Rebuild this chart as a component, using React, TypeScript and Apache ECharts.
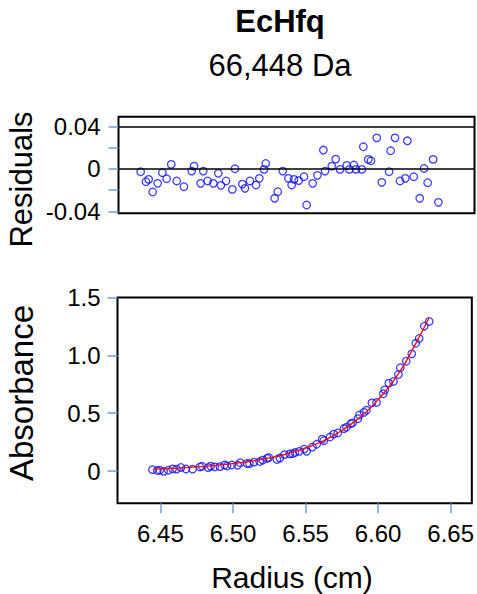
import React, { useEffect, useRef } from 'react';
import * as echarts from 'echarts';

// Radius (cm) of each scan point
const radius = [6.4445, 6.4479, 6.4496, 6.4522, 6.4554, 6.4584, 6.4611, 6.4641, 6.4676, 6.4722, 6.4772, 6.4787, 6.4829, 6.4846, 6.4874, 6.4910, 6.4942, 6.4959, 6.4992, 6.5032, 6.5049, 6.5096, 6.5113, 6.5145, 6.5184, 6.5205, 6.5235, 6.5246, 6.5303, 6.5323, 6.5355, 6.5391, 6.5412, 6.5427, 6.5457, 6.5491, 6.5508, 6.5547, 6.5577, 6.5615, 6.5626, 6.5669, 6.5694, 6.5722, 6.5765, 6.5782, 6.5811, 6.5824, 6.5861, 6.5871, 6.5903, 6.5920, 6.5957, 6.5989, 6.6036, 6.6046, 6.6074, 6.6106, 6.6140, 6.6153, 6.6194, 6.6232, 6.6260, 6.6283, 6.6318, 6.6352];

// Fit residuals at each radius
const residuals = [-0.0028, -0.0122, -0.0100, -0.0219, -0.0137, -0.0037, -0.0094, 0.0041, -0.0115, -0.0169, -0.0022, 0.0025, -0.0137, -0.0022, -0.0115, -0.0137, -0.0043, -0.0156, -0.0115, -0.0194, 0.0000, -0.0144, -0.0184, -0.0115, -0.0153, -0.0090, -0.0006, 0.0050, -0.0278, -0.0216, -0.0022, -0.0090, -0.0153, -0.0100, -0.0112, -0.0075, -0.0341, -0.0137, -0.0062, 0.0176, -0.0022, 0.0025, 0.0091, -0.0006, 0.0032, -0.0006, 0.0035, -0.0006, -0.0006, 0.0207, 0.0088, 0.0075, 0.0291, -0.0128, -0.0028, 0.0169, 0.0291, -0.0115, -0.0090, 0.0263, -0.0075, -0.0278, 0.0003, -0.0131, 0.0088, -0.0316];

// Measured absorbance at each radius
const absorbance = [0.012, 0.004, 0.007, -0.003, 0.007, 0.019, 0.016, 0.031, 0.018, 0.016, 0.035, 0.041, 0.029, 0.042, 0.036, 0.038, 0.052, 0.043, 0.052, 0.050, 0.072, 0.065, 0.064, 0.077, 0.082, 0.094, 0.109, 0.117, 0.100, 0.112, 0.142, 0.148, 0.149, 0.160, 0.170, 0.189, 0.170, 0.207, 0.231, 0.276, 0.262, 0.294, 0.319, 0.329, 0.367, 0.378, 0.409, 0.416, 0.452, 0.484, 0.507, 0.525, 0.589, 0.592, 0.668, 0.701, 0.760, 0.774, 0.834, 0.893, 0.949, 1.013, 1.104, 1.146, 1.252, 1.293];

// Fitted curve
const fitRadius = [6.445, 6.455, 6.465, 6.475, 6.485, 6.495, 6.505, 6.515, 6.525, 6.535, 6.545, 6.555, 6.565, 6.575, 6.585, 6.595, 6.605, 6.615, 6.625, 6.635];
const fitAbsorbance = [0.015, 0.020, 0.028, 0.035, 0.045, 0.057, 0.072, 0.090, 0.113, 0.142, 0.178, 0.222, 0.278, 0.350, 0.440, 0.550, 0.690, 0.860, 1.080, 1.320];

// Reference lines in residual panel
const residualLines = [-0.0034, 0.0379];

// Ticks
const residualTicks = [-0.04, -0.02, 0, 0.02, 0.04];
const residualLabels = [-0.04, 0, 0.04];
const absTicks = [0, 0.5, 1.0, 1.5];
const radiusTicks = [6.45, 6.5, 6.55, 6.6, 6.65];

const FONT = '"Liberation Sans", Arial, sans-serif';
const TICK_COLOR = '#6f9fd4';
const POINT_COLOR = '#1010ff';

export default function App() {
  const ref = useRef<HTMLDivElement>(null);

  useEffect(() => {
    if (!ref.current) return;
    const chart = echarts.init(ref.current, null, { renderer: 'svg' });

    const tickStyle = { show: true, inside: false, length: 10, lineStyle: { color: TICK_COLOR, width: 1.5 } };
    const labelBase = { color: '#000', fontSize: 24, fontFamily: FONT };

    const option: any = {
      animation: false,
      backgroundColor: '#fff',
      grid: [
        { left: 118.5, top: 116.8, width: 356, height: 96.5, show: true, borderColor: '#000', borderWidth: 2, backgroundColor: 'transparent', containLabel: false },
        { left: 117.5, top: 297.5, width: 356.5, height: 205.8, show: true, borderColor: '#000', borderWidth: 2, backgroundColor: 'transparent', containLabel: false },
      ],
      xAxis: [
        { gridIndex: 0, type: 'value', min: 6.4303, max: 6.6583, show: false },
        {
          gridIndex: 1, type: 'value', min: 6.4204, max: 6.6646,
          axisLine: { show: false, onZero: false },
          splitLine: { show: false },
          axisTick: { ...tickStyle, customValues: radiusTicks },
          axisLabel: { ...labelBase, customValues: radiusTicks, margin: 18, formatter: (v: number) => v.toFixed(2) },
        },
      ],
      yAxis: [
        {
          gridIndex: 0, type: 'value', min: -0.0419, max: 0.0489,
          axisLine: { show: false, onZero: false },
          splitLine: { show: false },
          axisTick: { ...tickStyle, customValues: residualTicks },
          axisLabel: { ...labelBase, customValues: residualLabels, margin: 18, formatter: (v: number) => (v === 0 ? '0' : v.toFixed(2)) },
        },
        {
          gridIndex: 1, type: 'value', min: -0.279, max: 1.5,
          axisLine: { show: false, onZero: false },
          splitLine: { show: false },
          axisTick: { ...tickStyle, customValues: absTicks },
          axisLabel: { ...labelBase, customValues: absTicks, margin: 17, formatter: (v: number) => (v === 0 ? '0' : v.toFixed(1)) },
        },
      ],
      series: [
        {
          type: 'scatter', xAxisIndex: 0, yAxisIndex: 0,
          data: radius.map((r, i) => [r, residuals[i]]),
          symbol: 'circle', symbolSize: 7.5,
          itemStyle: { color: 'rgba(0,0,0,0)', borderColor: POINT_COLOR, borderWidth: 1.3 },
          markLine: {
            silent: true, symbol: 'none', label: { show: false },
            lineStyle: { color: '#000', type: 'solid', width: 1.5 },
            data: residualLines.map((y) => ({ yAxis: y })),
          },
          z: 3,
        },
        {
          type: 'scatter', xAxisIndex: 1, yAxisIndex: 1,
          data: radius.map((r, i) => [r, absorbance[i]]),
          symbol: 'circle', symbolSize: 7.5,
          itemStyle: { color: 'rgba(0,0,0,0)', borderColor: POINT_COLOR, borderWidth: 1.3 },
          z: 3,
        },
        {
          type: 'line', xAxisIndex: 1, yAxisIndex: 1,
          data: fitRadius.map((r, i) => [r, fitAbsorbance[i]]),
          smooth: true, showSymbol: false, symbol: 'none',
          lineStyle: { color: '#ff0000', width: 1.3 },
          z: 4,
        },
      ],
      graphic: [
        { type: 'text', x: 280, y: 21, style: { text: 'EcHfq', fontSize: 31, fontWeight: 'bold', fontFamily: FONT, fill: '#000', align: 'center', verticalAlign: 'middle' } },
        { type: 'text', x: 280, y: 65, style: { text: '66,448 Da', fontSize: 31, fontFamily: FONT, fill: '#000', align: 'center', verticalAlign: 'middle' } },
        { type: 'text', x: 21.5, y: 179.5, rotation: Math.PI / 2, style: { text: 'Residuals', fontSize: 31, fontFamily: FONT, fill: '#000', align: 'center', verticalAlign: 'middle' } },
        { type: 'text', x: 21, y: 393, rotation: Math.PI / 2, style: { text: 'Absorbance', fontSize: 33, fontFamily: FONT, fill: '#000', align: 'center', verticalAlign: 'middle' } },
        { type: 'text', x: 292, y: 577, style: { text: 'Radius (cm)', fontSize: 30, fontFamily: FONT, fill: '#000', align: 'center', verticalAlign: 'middle' } },
      ],
    };

    chart.setOption(option);
    return () => chart.dispose();
  }, []);

  return <div ref={ref} style={{ position: 'fixed', left: 0, top: 0, width: 477, height: 594, background: '#fff' }} />;
}
